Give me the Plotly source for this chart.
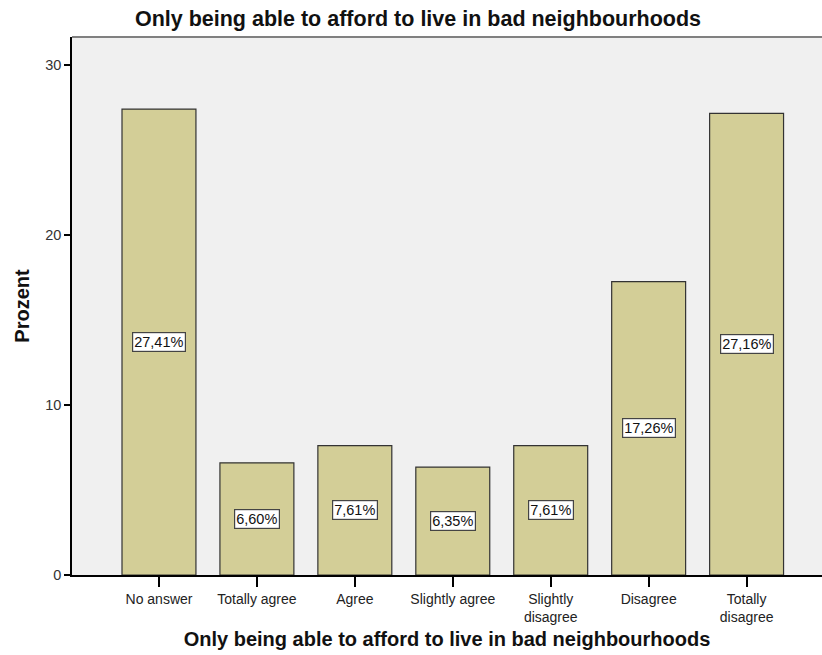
import plotly.graph_objects as go

categories = ["No answer", "Totally agree", "Agree", "Slightly agree",
              "Slightly<br>disagree", "Disagree", "Totally<br>disagree"]
percent = [27.41, 6.60, 7.61, 6.35, 7.61, 17.26, 27.16]
label_text = ["27,41%", "6,60%", "7,61%", "6,35%", "7,61%", "17,26%", "27,16%"]
y_ticks = [0, 10, 20, 30]

title = "Only being able to afford to live in bad neighbourhoods"
FONT = "Liberation Sans, Arial"

fig = go.Figure()
fig.add_trace(go.Bar(
    x=categories, y=percent, width=0.755,
    marker=dict(color="#d3ce97", line=dict(color="#333333", width=1.2)),
    hoverinfo="skip",
))

for c, v, t in zip(categories, percent, label_text):
    fig.add_annotation(
        x=c, y=v / 2, text=t, showarrow=False,
        font=dict(family=FONT, size=14.5, color="#111111"),
        bgcolor="white", bordercolor="#444444", borderwidth=1.2, borderpad=1,
    )

fig.add_shape(type="line", xref="paper", yref="paper", x0=0, x1=1, y0=1, y1=1,
              line=dict(color="#808080", width=2))

fig.update_layout(
    width=822, height=655,
    margin=dict(l=72, r=0, t=37, b=80),
    paper_bgcolor="white", plot_bgcolor="#f0f0f0",
    showlegend=False,
    font=dict(family=FONT, color="#222222"),
    title=dict(text="<b>" + title + "</b>", x=418 / 822, xanchor="center",
               xref="container",
               yref="container", y=1 - 18 / 655, yanchor="middle",
               font=dict(size=21.5, color="#111111")),
    xaxis=dict(
        type="category", range=[-0.888, 6.77],
        showline=True, linecolor="#000000", linewidth=1.5,
        ticks="outside", ticklen=10, tickcolor="#000000", tickwidth=1.5,
        tickfont=dict(size=14, color="#222222"),
        showgrid=False, zeroline=False, automargin=False,
        title=dict(text="<b>" + title + "</b>", font=dict(size=20, color="#111111"), standoff=8),
    ),
    yaxis=dict(
        range=[0, 31.65], tickvals=y_ticks,
        showline=True, linecolor="#000000", linewidth=1.5,
        ticks="outside", ticklen=6, tickcolor="#000000", tickwidth=1.5,
        tickfont=dict(size=14.5, color="#333333"),
        showgrid=False, zeroline=False, automargin=False,
        title=dict(text="<b>Prozent</b>", font=dict(size=20, color="#111111"), standoff=10),
    ),
)

fig.write_html("out.html", config={"displayModeBar": False},
               post_script="document.body.style.margin='0px';")
